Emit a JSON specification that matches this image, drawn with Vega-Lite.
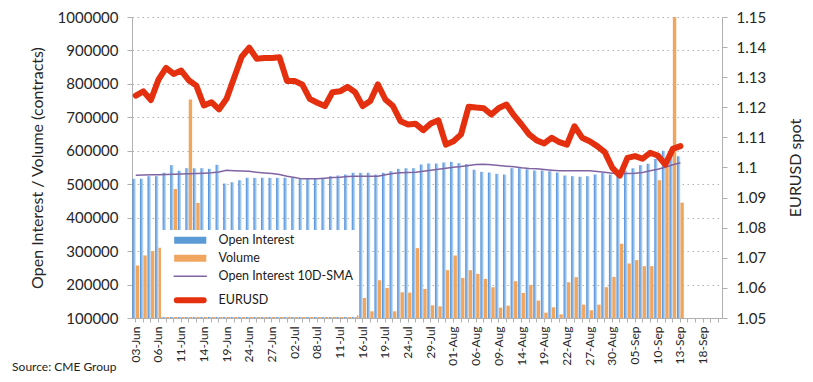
{
  "$schema": "https://vega.github.io/schema/vega-lite/v6.json",
  "width": 590,
  "height": 301,
  "autosize": {"type": "none"},
  "padding": {"left": 132, "top": 17, "right": 91, "bottom": 64},
  "background": "white",
  "config": {
    "font": "Lato",
    "view": {"stroke": null},
    "axis": {
      "labelFont": "Lato",
      "titleFont": "Lato",
      "labelColor": "#262626",
      "titleColor": "#262626",
      "titleFontWeight": "normal",
      "domainColor": "#b0b0b0",
      "tickColor": "#b0b0b0"
    },
    "axisLeft": {
      "title": "Open Interest / Volume (contracts)",
      "values": [100000, 200000, 300000, 400000, 500000, 600000, 700000, 800000, 900000, 1000000],
      "format": "d",
      "labelFontSize": 15,
      "titleFontSize": 16,
      "titlePadding": 12,
      "tickSize": 5,
      "labelPadding": 9,
      "grid": true,
      "gridDash": [1.5, 3.5],
      "gridColor": "#b0b0b0",
      "gridWidth": 1
    }
  },
  "title": {
    "text": "Source: CME Group",
    "orient": "bottom",
    "anchor": "start",
    "frame": "bounds",
    "offset": -3,
    "dx": -17,
    "fontSize": 12,
    "fontWeight": "normal",
    "font": "Lato",
    "color": "#222222"
  },
  "data": {
    "values": [
      {"date": "03-Jun", "oi": 516000, "vol": 257000, "sma": 527000, "eur": 1.1239},
      {"date": "04-Jun", "oi": 516000, "vol": 287000, "sma": 527500, "eur": 1.1253},
      {"date": "05-Jun", "oi": 524000, "vol": 300000, "sma": 528000, "eur": 1.1224},
      {"date": "06-Jun", "oi": 524000, "vol": 310000, "sma": 528500, "eur": 1.1292},
      {"date": "07-Jun", "oi": 534000, "vol": 280000, "sma": 529000, "eur": 1.1331},
      {"date": "10-Jun", "oi": 557000, "vol": 486000, "sma": 529500, "eur": 1.1311},
      {"date": "11-Jun", "oi": 540000, "vol": 330000, "sma": 530500, "eur": 1.1322},
      {"date": "12-Jun", "oi": 548000, "vol": 753000, "sma": 531000, "eur": 1.1290},
      {"date": "13-Jun", "oi": 548000, "vol": 444000, "sma": 532000, "eur": 1.1272},
      {"date": "14-Jun", "oi": 548000, "vol": 300000, "sma": 533000, "eur": 1.1206},
      {"date": "17-Jun", "oi": 546000, "vol": 260000, "sma": 534000, "eur": 1.1217},
      {"date": "18-Jun", "oi": 558000, "vol": 240000, "sma": 536500, "eur": 1.1193},
      {"date": "19-Jun", "oi": 502000, "vol": 210000, "sma": 541500, "eur": 1.1228},
      {"date": "20-Jun", "oi": 506000, "vol": 230000, "sma": 540500, "eur": 1.1298},
      {"date": "21-Jun", "oi": 512000, "vol": 250000, "sma": 539500, "eur": 1.1368},
      {"date": "24-Jun", "oi": 519000, "vol": 220000, "sma": 538500, "eur": 1.1398},
      {"date": "25-Jun", "oi": 519000, "vol": 200000, "sma": 535500, "eur": 1.1361},
      {"date": "26-Jun", "oi": 519000, "vol": 240000, "sma": 533500, "eur": 1.1364},
      {"date": "27-Jun", "oi": 519000, "vol": 260000, "sma": 532000, "eur": 1.1364},
      {"date": "28-Jun", "oi": 519000, "vol": 230000, "sma": 529000, "eur": 1.1366},
      {"date": "01-Jul", "oi": 519000, "vol": 210000, "sma": 524000, "eur": 1.1287},
      {"date": "02-Jul", "oi": 519000, "vol": 190000, "sma": 520000, "eur": 1.1287},
      {"date": "03-Jul", "oi": 516000, "vol": 200000, "sma": 516000, "eur": 1.1276},
      {"date": "05-Jul", "oi": 516000, "vol": 170000, "sma": 516000, "eur": 1.1228},
      {"date": "08-Jul", "oi": 516000, "vol": 120000, "sma": 516000, "eur": 1.1215},
      {"date": "09-Jul", "oi": 519000, "vol": 117000, "sma": 518000, "eur": 1.1204},
      {"date": "10-Jul", "oi": 524000, "vol": 220000, "sma": 520000, "eur": 1.1250},
      {"date": "11-Jul", "oi": 526000, "vol": 180000, "sma": 521000, "eur": 1.1253},
      {"date": "12-Jul", "oi": 529000, "vol": 200000, "sma": 523000, "eur": 1.1268},
      {"date": "15-Jul", "oi": 534000, "vol": 108000, "sma": 524000, "eur": 1.1250},
      {"date": "16-Jul", "oi": 534000, "vol": 160000, "sma": 524000, "eur": 1.1204},
      {"date": "17-Jul", "oi": 534000, "vol": 120000, "sma": 524000, "eur": 1.1221},
      {"date": "18-Jul", "oi": 529000, "vol": 213000, "sma": 524000, "eur": 1.1276},
      {"date": "19-Jul", "oi": 534000, "vol": 190000, "sma": 528000, "eur": 1.1226},
      {"date": "22-Jul", "oi": 539000, "vol": 120000, "sma": 532000, "eur": 1.1204},
      {"date": "23-Jul", "oi": 546000, "vol": 177000, "sma": 534000, "eur": 1.1154},
      {"date": "24-Jul", "oi": 548000, "vol": 176000, "sma": 535000, "eur": 1.1143},
      {"date": "25-Jul", "oi": 548000, "vol": 309000, "sma": 536000, "eur": 1.1145},
      {"date": "26-Jul", "oi": 559000, "vol": 187000, "sma": 539000, "eur": 1.1124},
      {"date": "29-Jul", "oi": 562000, "vol": 138000, "sma": 542000, "eur": 1.1146},
      {"date": "30-Jul", "oi": 562000, "vol": 135000, "sma": 545000, "eur": 1.1157},
      {"date": "31-Jul", "oi": 565000, "vol": 243000, "sma": 548000, "eur": 1.1076},
      {"date": "01-Aug", "oi": 567000, "vol": 287000, "sma": 551000, "eur": 1.1087},
      {"date": "02-Aug", "oi": 563000, "vol": 220000, "sma": 553000, "eur": 1.1110},
      {"date": "05-Aug", "oi": 560000, "vol": 243000, "sma": 556000, "eur": 1.1202},
      {"date": "06-Aug", "oi": 543000, "vol": 232000, "sma": 559000, "eur": 1.1199},
      {"date": "07-Aug", "oi": 537000, "vol": 217000, "sma": 560000, "eur": 1.1197},
      {"date": "08-Aug", "oi": 535000, "vol": 192000, "sma": 558000, "eur": 1.1176},
      {"date": "09-Aug", "oi": 531000, "vol": 131000, "sma": 556000, "eur": 1.1198},
      {"date": "12-Aug", "oi": 529000, "vol": 137000, "sma": 554000, "eur": 1.1209},
      {"date": "13-Aug", "oi": 548000, "vol": 210000, "sma": 552000, "eur": 1.1173},
      {"date": "14-Aug", "oi": 548000, "vol": 175000, "sma": 549000, "eur": 1.1143},
      {"date": "15-Aug", "oi": 545000, "vol": 199000, "sma": 547000, "eur": 1.1110},
      {"date": "16-Aug", "oi": 541000, "vol": 152000, "sma": 546000, "eur": 1.1090},
      {"date": "19-Aug", "oi": 541000, "vol": 116000, "sma": 544000, "eur": 1.1080},
      {"date": "20-Aug", "oi": 539000, "vol": 132000, "sma": 542000, "eur": 1.1099},
      {"date": "21-Aug", "oi": 535000, "vol": 111000, "sma": 540000, "eur": 1.1084},
      {"date": "22-Aug", "oi": 526000, "vol": 207000, "sma": 540000, "eur": 1.1076},
      {"date": "23-Aug", "oi": 524000, "vol": 222000, "sma": 540000, "eur": 1.1137},
      {"date": "26-Aug", "oi": 522000, "vol": 140000, "sma": 540000, "eur": 1.1099},
      {"date": "27-Aug", "oi": 524000, "vol": 123000, "sma": 540000, "eur": 1.1087},
      {"date": "28-Aug", "oi": 529000, "vol": 140000, "sma": 538000, "eur": 1.1071},
      {"date": "29-Aug", "oi": 534000, "vol": 192000, "sma": 536000, "eur": 1.1051},
      {"date": "30-Aug", "oi": 529000, "vol": 223000, "sma": 533000, "eur": 1.0999},
      {"date": "03-Sep", "oi": 534000, "vol": 322000, "sma": 532000, "eur": 1.0973},
      {"date": "04-Sep", "oi": 541000, "vol": 263000, "sma": 532000, "eur": 1.1032},
      {"date": "05-Sep", "oi": 548000, "vol": 273000, "sma": 532500, "eur": 1.1038},
      {"date": "06-Sep", "oi": 557000, "vol": 255000, "sma": 535000, "eur": 1.1029},
      {"date": "09-Sep", "oi": 561000, "vol": 255000, "sma": 540000, "eur": 1.1049},
      {"date": "10-Sep", "oi": 576000, "vol": 512000, "sma": 545000, "eur": 1.1040},
      {"date": "11-Sep", "oi": 600000, "vol": 560000, "sma": 551000, "eur": 1.1010},
      {"date": "12-Sep", "oi": 595000, "vol": 1000000, "sma": 558000, "eur": 1.1062},
      {"date": "13-Sep", "oi": 584000, "vol": 445000, "sma": 564000, "eur": 1.1071}
    ]
  },
  "encoding": {
    "x": {
      "field": "date",
      "type": "ordinal",
      "sort": null,
      "scale": {
        "type": "band",
        "paddingInner": 0.1,
        "paddingOuter": 0.05,
        "domain": ["03-Jun","04-Jun","05-Jun","06-Jun","07-Jun","10-Jun","11-Jun","12-Jun","13-Jun","14-Jun","17-Jun","18-Jun","19-Jun","20-Jun","21-Jun","24-Jun","25-Jun","26-Jun","27-Jun","28-Jun","01-Jul","02-Jul","03-Jul","05-Jul","08-Jul","09-Jul","10-Jul","11-Jul","12-Jul","15-Jul","16-Jul","17-Jul","18-Jul","19-Jul","22-Jul","23-Jul","24-Jul","25-Jul","26-Jul","29-Jul","30-Jul","31-Jul","01-Aug","02-Aug","05-Aug","06-Aug","07-Aug","08-Aug","09-Aug","12-Aug","13-Aug","14-Aug","15-Aug","16-Aug","19-Aug","20-Aug","21-Aug","22-Aug","23-Aug","26-Aug","27-Aug","28-Aug","29-Aug","30-Aug","03-Sep","04-Sep","05-Sep","06-Sep","09-Sep","10-Sep","11-Sep","12-Sep","13-Sep","16-Sep","17-Sep","18-Sep","19-Sep","20-Sep"]
      },
      "axis": {
        "title": null,
        "labelAngle": 270,
        "labelFontSize": 12,
        "labelExpr": "indexof(['03-Jun','06-Jun','11-Jun','14-Jun','19-Jun','24-Jun','27-Jun','02-Jul','08-Jul','11-Jul','16-Jul','19-Jul','24-Jul','29-Jul','01-Aug','06-Aug','09-Aug','14-Aug','19-Aug','22-Aug','27-Aug','30-Aug','05-Sep','10-Sep','13-Sep','18-Sep'], datum.value) >= 0 ? datum.value : ''",
        "labelOverlap": false,
        "labelBound": false,
        "labelFlush": false,
        "labelPadding": 4,
        "tickSize": 4,
        "grid": false
      }
    }
  },
  "layer": [
    {
      "layer": [
        {
          "transform": [{"fold": ["oi"], "as": ["series", "value"]}],
          "mark": {
            "type": "bar",
            "color": {
              "gradient": "linear",
              "x1": 0, "y1": 0, "x2": 1, "y2": 0,
              "stops": [
                {"offset": 0, "color": "#4a8cd6"},
                {"offset": 0.55, "color": "#8fbcec"},
                {"offset": 1, "color": "#d3e5f8"}
              ]
            }
          },
          "encoding": {
            "xOffset": {"field": "series", "type": "nominal", "scale": {"domain": ["oi", "vol"], "paddingInner": 0, "paddingOuter": 0}},
            "y": {
              "field": "value",
              "type": "quantitative",
              "title": "Open Interest / Volume (contracts)",
              "scale": {"domain": [100000, 1000000], "nice": false, "zero": false}
            },
            "y2": {"datum": 100000}
          }
        },
        {
          "transform": [{"fold": ["vol"], "as": ["series", "value"]}],
          "mark": {"type": "bar"},
          "encoding": {
            "xOffset": {"field": "series", "type": "nominal", "scale": {"domain": ["oi", "vol"], "paddingInner": 0, "paddingOuter": 0}},
            "y": {"field": "value", "type": "quantitative", "title": "Open Interest / Volume (contracts)", "scale": {"domain": [100000, 1000000], "nice": false, "zero": false}},
            "y2": {"datum": 100000},
            "color": {
              "datum": "Volume",
              "type": "nominal",
              "scale": {
                "domain": ["Open Interest", "Volume", "Open Interest 10D-SMA", "EURUSD"],
                "range": ["#5b9bd5", "#f1a65f", "#8064a2", "#e5300f"]
              },
              "legend": {
                "orient": "none",
                "legendX": 29,
                "legendY": 213,
                "title": null,
                "fillColor": "white",
                "padding": 4,
                "rowPadding": 5,
                "labelFont": "Lato",
                "labelFontSize": 12.5,
                "labelColor": "#1a1a1a",
                "labelOffset": 22,
                "symbolOffset": 19,
                "labelLimit": 400,
                "symbolSize": 2304,
                "encode": {
                  "symbols": {
                    "update": {
                      "shape": {"signal": "datum.value === 'Open Interest' || datum.value === 'Volume' ? 'M-0.67,-0.15H0.67V0.15H-0.67Z' : (datum.value === 'EURUSD' ? 'M-0.56,0H0.56' : 'M-0.67,0H0.67')"},
                      "fill": {"signal": "datum.value === 'Open Interest' ? '#5b9bd5' : (datum.value === 'Volume' ? '#f1a65f' : 'transparent')"},
                      "stroke": {"signal": "datum.value === 'EURUSD' ? '#e5300f' : (datum.value === 'Open Interest 10D-SMA' ? '#8064a2' : 'transparent')"},
                      "strokeWidth": {"signal": "datum.value === 'EURUSD' ? 6 : (datum.value === 'Open Interest 10D-SMA' ? 1.5 : 0)"},
                      "strokeCap": {"value": "round"},
                      "opacity": {"value": 1}
                    }
                  }
                }
              }
            }
          }
        },
        {
          "mark": {"type": "line", "strokeWidth": 1.5},
          "encoding": {
            "y": {"field": "sma", "type": "quantitative", "title": "Open Interest / Volume (contracts)", "scale": {"domain": [100000, 1000000], "nice": false, "zero": false}},
            "color": {"datum": "Open Interest 10D-SMA", "type": "nominal"}
          }
        }
      ]
    },
    {
      "mark": {"type": "line", "strokeWidth": 6, "strokeJoin": "round", "strokeCap": "round"},
      "encoding": {
        "y": {
          "field": "eur",
          "type": "quantitative",
          "scale": {"domain": [1.05, 1.15], "nice": false, "zero": false},
          "axis": {
            "orient": "right",
            "title": "EURUSD spot",
            "titleAngle": 270,
            "values": [1.05, 1.06, 1.07, 1.08, 1.09, 1.1, 1.11, 1.12, 1.13, 1.14, 1.15],
            "format": ".2~f",
            "labelFontSize": 15,
            "titleFontSize": 16,
            "titlePadding": 38,
            "tickSize": 5,
            "labelPadding": 9,
            "grid": false
          }
        },
        "color": {"datum": "EURUSD", "type": "nominal"}
      }
    }
  ],
  "resolve": {"scale": {"y": "independent"}}
}
